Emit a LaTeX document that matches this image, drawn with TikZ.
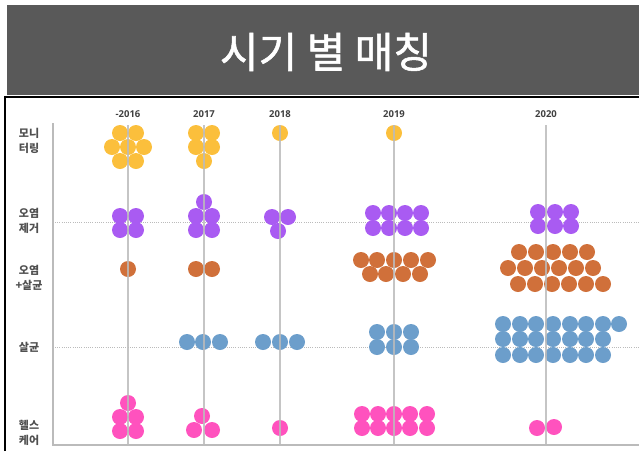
\documentclass[tikz,border=0pt]{standalone}
\usepackage{fontspec}
\setmainfont{Open Sans}
\newfontfamily\kr{Noto Sans CJK KR}
\newfontfamily\krt[FakeBold=1.3]{Noto Sans CJK KR}
\definecolor{hdr}{HTML}{595959}
\definecolor{yel}{HTML}{FBBF3C}
\definecolor{pur}{HTML}{A95BF2}
\definecolor{org}{HTML}{D0703A}
\definecolor{blu}{HTML}{6C9ECB}
\definecolor{pnk}{HTML}{FF52BE}
\definecolor{grid}{HTML}{BBBBBB}
\definecolor{lbl}{HTML}{505050}
\begin{document}
\begin{tikzpicture}[x=1pt,y=-1pt,
  rowlabel/.style={align=center,text=lbl,font=\kr\bfseries\fontsize{11}{15}\selectfont,inner sep=0pt},
  yearlabel/.style={text=lbl!80!black,font=\bfseries\fontsize{9.5}{10}\selectfont,inner sep=0pt},
  yearline/.style={draw=grid,line width=1.4pt,opacity=0.85},
  dotline/.style={draw=grid,line width=1pt,dash pattern=on 1pt off 1.2pt}]
\useasboundingbox (0,0) rectangle (639,451);
% header
\fill[hdr] (7,5) rectangle (639,95);
\node[text=white,font=\krt\fontsize{42}{44}\selectfont,inner sep=0pt] (title) at (326,52) {시기 별 매칭};
% frame
\draw[line width=2pt] (5,451) -- (5,97) -- (639,97);
% dotted guide lines
\coordinate (d1s) at (55,222); \coordinate (d1e) at (639,222);
\coordinate (d2s) at (55,347); \coordinate (d2e) at (639,347);
\draw[dotline] (d1s) -- (d1e);
\draw[dotline] (d2s) -- (d2e);
% dots
\foreach \x/\y in {120/133,136/133,112/147,128/147,144/147,120/161,136/161,
  196/133,212/133,196/147,212/147,204/161,280/133,394/133}
  \fill[yel] (\x,\y) circle[radius=8pt];
\foreach \x/\y in {120/216,136/216,120/230,136/230,
  204/202,196/216,212/216,196/230,212/230,
  272/217,288/217,278/231,
  373/213,389/213,405/213,421/213,373/228,389/228,405/228,421/228,
  538/212,555/212,571/212,538/226,555/226,571/226}
  \fill[pur] (\x,\y) circle[radius=8pt];
\foreach \x/\y in {128/269,196/269,212/269,
  361/260,377/260,394/260,411/260,428/260,370/274,386/274,403/274,420/274,
  519/252,536/252,553/252,570/252,587/252,
  508/268,525/268,542/268,559/268,576/268,593/268,
  518/284,535/284,552/284,569/284,586/284,603/284}
  \fill[org] (\x,\y) circle[radius=8pt];
\foreach \x/\y in {187/342,203/342,220/342,263/342,280/342,297/342,
  377/332,394/332,411/332,377/347,394/347,411/347,
  503/324,520/324,536/324,553/324,570/324,586/324,603/324,619/324,
  503/339,520/339,536/339,553/339,570/339,586/339,603/339,
  503/355,520/355,536/355,553/355,570/355,586/355,603/355}
  \fill[blu] (\x,\y) circle[radius=8pt];
\foreach \x/\y in {128/403,120/417,136/417,120/431,136/431,
  202/416,194/430,212/430,280/428,
  362/414,378/414,394/414,410/414,427/414,362/428,378/428,394/428,410/428,427/428,
  537/428,554/427}
  \fill[pnk] (\x,\y) circle[radius=8pt];
% axes
\coordinate (ytop) at (53,123);
\coordinate (orig) at (53,445);
\coordinate (xend) at (639,445);
\draw[grid,line width=1.6pt] (ytop) -- (orig) -- (xend);
% year lines and labels
\foreach \n/\x/\t in {y16/128/-2016,y17/204/2017,y18/280/2018,y19/394/2019,y20/546/2020}{
  \node[yearlabel] (\n) at (\x,114) {\t};
  \coordinate (\n top) at (\x,125);
  \coordinate (\n bot) at (\x,445);
  \draw[yearline] (\n top) -- (\n bot);
}
% row labels
\node[rowlabel] (r1) at (29,141) {모니\\터링};
\node[rowlabel] (r2) at (29,221) {오염\\제거};
\node[rowlabel] (r3) at (29,278) {오염\\+살균};
\node[rowlabel] (r4) at (29,347) {살균};
\node[rowlabel] (r5) at (29,433) {헬스\\케어};
\end{tikzpicture}
\end{document}
